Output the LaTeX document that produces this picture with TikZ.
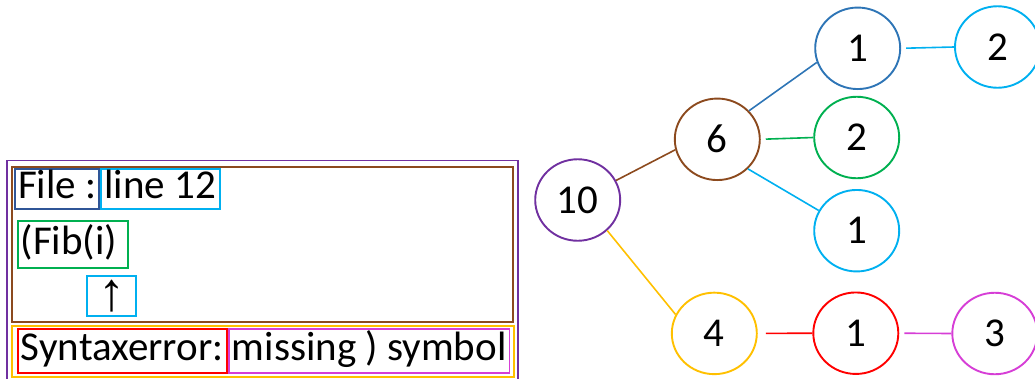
\documentclass[tikz,border=0pt]{standalone}
\usepackage{fontspec}
\setmainfont{Carlito}
\newfontfamily\symfont{Liberation Sans}
\usetikzlibrary{shapes.geometric}

\definecolor{cpurple}{HTML}{7030A0}
\definecolor{cbrown}{HTML}{8C4A1E}
\definecolor{corange}{HTML}{FFC000}
\definecolor{cdblue}{HTML}{2F5597}
\definecolor{cblue}{HTML}{2E75B6}
\definecolor{clblue}{HTML}{00B0F0}
\definecolor{cgreen}{HTML}{00B050}
\definecolor{cred}{HTML}{FF0000}
\definecolor{cmagenta}{HTML}{D63ED6}

\tikzset{
  txt/.style={font=\fontsize{41}{49}\selectfont},
  frame/.style={draw=#1, line width=1.9pt, rectangle, inner sep=0pt},
  tbox/.style={frame=#1, txt, inner xsep=3pt, text height=27pt, text depth=8pt},
  num/.style={draw=#1, line width=1.9pt, ellipse, inner sep=0pt,
              minimum width=85pt, minimum height=81.5pt, txt},
  link/.style={draw=#1, line width=1.6pt},
}

\begin{document}
\begin{tikzpicture}[x=1pt, y=-1pt]
\useasboundingbox (0,0) rectangle (1035,378);

% --- error message panel ---
\node[frame=cpurple, minimum width=510.4pt, minimum height=221pt] (panel) at (262.5,271) {};
\node[frame=cbrown, minimum width=500.4pt, minimum height=155pt] (source) at (262.5,244.8) {};
\node[frame=corange, minimum width=502pt, minimum height=51pt] (errline) at (263.3,351.2) {};

\node[tbox=cdblue, minimum width=81pt, minimum height=39.7pt] (file) at (57.2,189.2) {File :};
\node[tbox=clblue, minimum width=119.3pt, minimum height=39.7pt] (line) at (160.3,189.2) {line 12};
\node[tbox=cgreen, minimum height=47.3pt, text width=104.6pt, align=left] (call) at (73,244.7) {(Fib(i)};
\node[frame=clblue, minimum width=48.4pt, minimum height=40.6pt, font=\symfont\fontsize{54}{60}\selectfont] (caret) at (111.5,296) {↑};
\node[tbox=cred, minimum width=209pt, minimum height=44.3pt] (kind) at (122.2,351.2) {Syntaxerror:};
\node[tbox=cmagenta, minimum width=277pt, minimum height=44.3pt] (msg) at (369.2,351.2) {missing ) symbol};

% --- call tree ---
\node[num=cpurple] (n10) at (577.7,200) {10};
\node[num=cbrown]  (n6)  at (717.3,139.3) {6};
\node[num=cblue]   (a1)  at (857.7,48.3) {1};
\node[num=clblue]  (a2)  at (997.5,47) {2};
\node[num=cgreen]  (b2)  at (856.7,137.5) {2};
\node[num=clblue]  (c1)  at (856.7,230.7) {1};
\node[num=corange] (n4)  at (714.3,333.4) {4};
\node[num=cred]    (d1)  at (855.8,333.2) {1};
\node[num=cmagenta] (d3) at (994.8,333.5) {3};

\draw[link=cbrown]  (n10.27) -- (n6.194);
\draw[link=corange] (n10.314) -- (n4.154);
\draw[link=cblue]   (n6.42) -- (a1.199);
\draw[link=cgreen, shorten <=5pt] (n6.east) -- (b2.west);
\draw[link=clblue]  (n6.316) -- (c1.152);
\draw[link=clblue, shorten <=5pt] (a1.east) -- (a2.west);
\draw[link=cred, shorten <=8pt] (n4.east) -- (d1.west);
\draw[link=cmagenta, shorten <=5pt] (d1.east) -- (d3.west);
\end{tikzpicture}
\end{document}
